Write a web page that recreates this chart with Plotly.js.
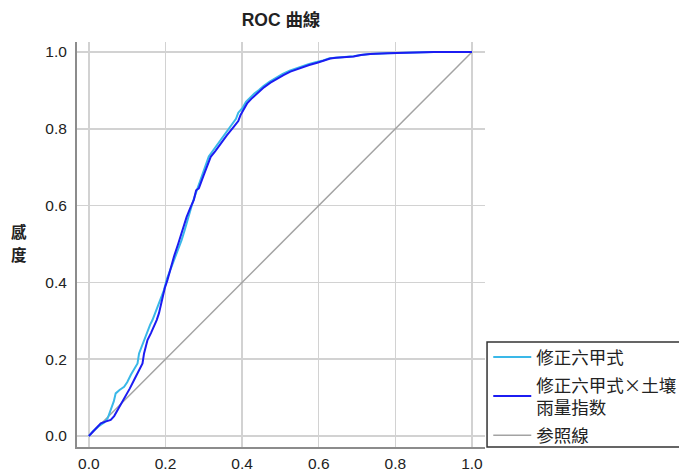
<!DOCTYPE html>
<html>
<head>
<meta charset="utf-8">
<script src="https://cdn.plot.ly/plotly-3.0.1.min.js"></script>
<style>
  html, body { margin: 0; padding: 0; background: #fff; }
  #chart { width: 679px; height: 472px; }
</style>
</head>
<body>
<div id="chart"></div>
<script>
// ROC curve: false positive rate (1 - specificity) vs sensitivity
const seriesNames = ["修正六甲式", "修正六甲式×土壤<br>雨量指数", "参照線"];

// 修正六甲式
const fprA = [0, 0.01, 0.025, 0.04, 0.049, 0.058, 0.065, 0.07, 0.08, 0.092, 0.1, 0.11, 0.12, 0.127,
  0.131, 0.14, 0.148, 0.153, 0.16, 0.166, 0.172, 0.179, 0.187, 0.196, 0.204, 0.214, 0.224, 0.233,
  0.242, 0.25, 0.258, 0.266, 0.272, 0.279, 0.285, 0.297, 0.306, 0.313, 0.326, 0.34, 0.356, 0.372,
  0.384, 0.39, 0.401, 0.41, 0.421, 0.432, 0.444, 0.455, 0.472, 0.489, 0.506, 0.524, 0.538, 0.55,
  0.573, 0.594, 0.612, 0.628, 0.644, 0.656, 0.67, 0.691, 0.71, 0.734, 0.78, 0.83, 0.9, 0.95, 1.0];
const tprA = [0, 0.012, 0.025, 0.035, 0.046, 0.07, 0.09, 0.111, 0.12, 0.128, 0.14, 0.16, 0.175, 0.189,
  0.215, 0.24, 0.262, 0.276, 0.29, 0.302, 0.318, 0.337, 0.355, 0.38, 0.41, 0.435, 0.46, 0.485,
  0.51, 0.536, 0.565, 0.59, 0.612, 0.632, 0.648, 0.684, 0.708, 0.728, 0.746, 0.766, 0.788, 0.81,
  0.826, 0.842, 0.854, 0.87, 0.882, 0.892, 0.901, 0.911, 0.923, 0.934, 0.943, 0.951, 0.956, 0.961,
  0.968, 0.974, 0.978, 0.984, 0.985, 0.986, 0.987, 0.989, 0.992, 0.995, 0.997, 0.999, 1.0, 1.0, 1.0];

// 修正六甲式×土壌雨量指数
const fprB = [0, 0.01, 0.031, 0.045, 0.057, 0.066, 0.075, 0.086, 0.096, 0.107, 0.118, 0.13, 0.14,
  0.144, 0.148, 0.153, 0.162, 0.17, 0.177, 0.183, 0.188, 0.192, 0.198, 0.205, 0.213, 0.222, 0.233,
  0.244, 0.255, 0.265, 0.274, 0.28, 0.287, 0.3, 0.31, 0.318, 0.33, 0.344, 0.36, 0.378, 0.39, 0.396,
  0.405, 0.413, 0.424, 0.435, 0.446, 0.457, 0.474, 0.491, 0.508, 0.526, 0.54, 0.552, 0.575, 0.596,
  0.614, 0.63, 0.645, 0.656, 0.67, 0.691, 0.71, 0.734, 0.78, 0.83, 0.9, 0.95, 1.0];
const tprB = [0, 0.01, 0.033, 0.038, 0.042, 0.052, 0.068, 0.085, 0.102, 0.124, 0.146, 0.168, 0.189,
  0.215, 0.232, 0.25, 0.268, 0.285, 0.302, 0.32, 0.34, 0.363, 0.385, 0.406, 0.437, 0.467, 0.5,
  0.536, 0.57, 0.595, 0.615, 0.64, 0.645, 0.68, 0.705, 0.727, 0.742, 0.762, 0.783, 0.805, 0.82, 0.836,
  0.85, 0.866, 0.878, 0.888, 0.898, 0.908, 0.92, 0.931, 0.94, 0.949, 0.954, 0.959, 0.966, 0.972,
  0.977, 0.983, 0.985, 0.986, 0.986, 0.988, 0.992, 0.995, 0.997, 0.999, 1.0, 1.0, 1.0];

// diagonal reference
const refX = [0, 1];
const refY = [0, 1];

const tickVals = [0, 0.2, 0.4, 0.6, 0.8, 1.0];
const tickText = ["0.0", "0.2", "0.4", "0.6", "0.8", "1.0"];

const cjk = "'Noto Sans CJK TC', 'Liberation Sans', Arial, sans-serif";
const latin = "'Liberation Sans', Arial, 'Noto Sans CJK TC', sans-serif";

const traces = [
  { x: refX, y: refY, name: seriesNames[2], mode: "lines", legendrank: 3, legendgroup: "c",
    line: { color: "#a3a3a3", width: 1.5 } },
  { x: fprA, y: tprA, name: seriesNames[0], mode: "lines", legendrank: 1, legendgroup: "a",
    line: { color: "#3ab8e8", width: 2 } },
  { x: fprB, y: tprB, name: seriesNames[1], mode: "lines", legendrank: 2, legendgroup: "b",
    line: { color: "#1c1cf2", width: 2 } }
];

const axisCommon = {
  tickvals: tickVals, ticktext: tickText,
  showgrid: true, gridcolor: "#d2d2d2", gridwidth: 1.5,
  zeroline: false, showline: true, linecolor: "#8c8c8c", linewidth: 2,
  ticks: "", tickfont: { family: latin, size: 15.5, color: "#222" },
  fixedrange: true
};

const layout = {
  width: 679, height: 472,
  margin: { l: 77, r: 194, t: 42, b: 25, pad: 0, autoexpand: false },
  paper_bgcolor: "#fff", plot_bgcolor: "#fff",
  title: { text: "<b>ROC 曲線</b>", x: 0.5, xref: "paper", y: 0.957, yref: "container",
    yanchor: "middle", font: { family: latin, size: 17.5, color: "#222" } },
  xaxis: Object.assign({}, axisCommon, { range: [-0.031, 1.034], ticklabelstandoff: 1 }),
  yaxis: Object.assign({}, axisCommon, { range: [-0.0286, 1.026], ticklabelstandoff: 5 }),
  showlegend: true,
  legend: {
    x: 1.008, xanchor: "left", y: -0.015, yanchor: "bottom",
    bgcolor: "rgba(0,0,0,0)", borderwidth: 0,
    font: { family: cjk, size: 17.5, color: "#222" },
    traceorder: "grouped", tracegroupgap: 2, itemwidth: 38
  },
  shapes: [
    { type: "rect", xref: "paper", yref: "paper", x0: 1.005, x1: 1.6, y0: 0, y1: 0.259,
      line: { color: "#333", width: 1.5 }, fillcolor: "rgba(0,0,0,0)" }
  ],
  annotations: [
    { text: "<b>感</b>", xref: "paper", yref: "paper", x: -0.143, y: 0.534, height: 18,
      showarrow: false, xanchor: "center", yanchor: "middle",
      font: { family: cjk, size: 15.5, color: "#222" } },
    { text: "<b>度</b>", xref: "paper", yref: "paper", x: -0.143, y: 0.477, height: 18,
      showarrow: false, xanchor: "center", yanchor: "middle",
      font: { family: cjk, size: 15.5, color: "#222" } }
  ]
};

Plotly.newPlot("chart", traces, layout, { displayModeBar: false, staticPlot: true });
</script>
</body>
</html>
